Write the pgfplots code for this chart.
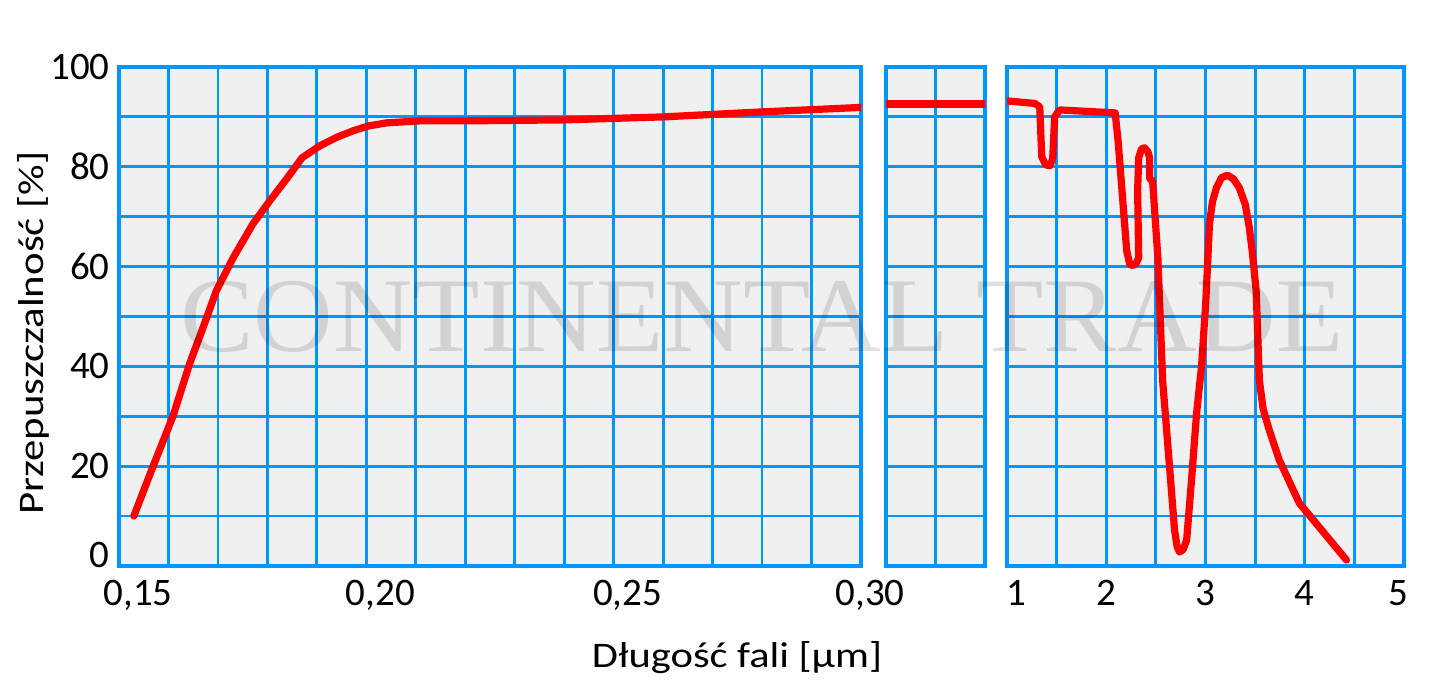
\documentclass[border=0pt]{standalone}
\usepackage{fontspec}
\setmainfont{Carlito}
\usepackage{pgfplots}
\pgfplotsset{compat=1.18}

\definecolor{gridblue}{RGB}{0,150,255}
\definecolor{panelbg}{RGB}{240,240,240}
\definecolor{curvered}{RGB}{255,0,0}

\pgfplotsset{
  panel/.style={
    scale only axis,
    height=249.5pt,
    anchor=south west,
    ymin=0, ymax=100,
    ytick={0,10,...,100},
    yticklabels={},
    xmajorgrids, ymajorgrids,
    major grid style={gridblue, line width=1.4pt},
    axis line style={gridblue, line width=2pt},
    axis background/.style={fill=panelbg},
    tick style={draw=none},
    ticklabel style={font=\fontsize{19.5pt}{22pt}\selectfont, inner sep=0pt},
    xticklabel style={yshift=-7pt},
    yticklabel style={xshift=-4.5pt},
  },
  curve/.style={curvered, line width=3.6pt, line join=round, line cap=round},
}

\begin{document}
\begin{tikzpicture}
\useasboundingbox (0,0) rectangle (720pt,347pt);

% 0,15 - 0,30
\begin{axis}[panel,
  at={(59.5pt,64pt)}, width=371pt,
  xmin=0.15, xmax=0.30,
  xtick={0.15,0.16,0.17,0.18,0.19,0.20,0.21,0.22,0.23,0.24,0.25,0.26,0.27,0.28,0.29,0.30},
  xticklabels={{\kern5pt0,15},,,,,{0,20},,,,,{0,25},,,,,{0,30\kern5pt}},
  xticklabel style={xshift=7pt},
  yticklabels={\raisebox{11pt}{0},,20,,40,,60,,80,,100},
]
\addplot[curve] coordinates {
  (0.1530,10.0) (0.1569,20.0) (0.1609,30.0) (0.1643,40.6) (0.1670,47.8)
  (0.1697,55.2) (0.1731,61.8) (0.1771,68.6) (0.1805,73.2) (0.1839,77.6)
  (0.1870,81.8) (0.1906,84.2) (0.1940,85.9) (0.1973,87.2) (0.2005,88.2)
  (0.2041,88.8) (0.2108,89.2) (0.2200,89.2) (0.2400,89.4) (0.2600,90.0)
  (0.2800,91.0) (0.3000,91.9)
};
\end{axis}

% przerwa
\begin{axis}[panel,
  at={(443pt,64pt)}, width=49.5pt,
  xmin=0.30, xmax=1.0,
  xtick={0.30,0.65,1.0}, xticklabels={},
]
\addplot[curve] coordinates {(0.30,92.6) (1.0,92.6)};
\end{axis}

% 1 - 5
\begin{axis}[panel,
  at={(503.5pt,64pt)}, width=198.5pt,
  xmin=1, xmax=5,
  xtick={1,1.5,2,2.5,3,3.5,4,4.5,5},
  xticklabels={{\kern9pt1},,2,,3,,4,,{5\kern6pt}},
]
\addplot[curve] coordinates {
  (1.00,93.2) (1.28,92.7) (1.33,92.0) (1.35,82.0) (1.39,80.4) (1.43,80.2)
  (1.46,81.5) (1.48,90.0) (1.53,91.4) (2.09,90.8) (2.12,85.0) (2.206,63.2)
  (2.236,60.5) (2.266,60.2) (2.300,60.6) (2.327,61.8) (2.316,75.2)
  (2.327,81.8) (2.355,83.6) (2.387,83.8) (2.420,83.0) (2.437,81.8)
  (2.437,77.6) (2.467,77.2) (2.520,61.8) (2.568,37.2) (2.638,19.8)
  (2.688,7.2) (2.715,3.8) (2.739,2.8) (2.775,3.3) (2.810,5.2) (2.859,17.2)
  (2.910,30.6) (2.960,40.0) (3.000,52.0) (3.020,60.0) (3.040,68.6)
  (3.070,73.0) (3.110,75.8) (3.160,77.8) (3.220,78.3) (3.280,77.6)
  (3.340,75.8) (3.400,72.5) (3.440,68.0) (3.470,63.2) (3.510,55.2)
  (3.543,37.2) (3.580,31.5) (3.643,27.2) (3.744,21.2) (3.945,12.6)
  (4.420,1.2)
};
\end{axis}

% znak wodny
\node[text=black, opacity=0.12, inner sep=0pt, xscale=1.04]
  at (381pt,188.5pt) {\fontspec{Liberation Serif}\fontsize{53pt}{60pt}\selectfont CONTINENTAL TRADE};

\node[rotate=90, anchor=base, inner sep=0pt] at (21.5pt,180.5pt)
  {\fontsize{18pt}{21pt}\selectfont\scalebox{1.19}[1]{Przepuszczalność [\%]}};
\node[anchor=base, inner sep=0pt] at (368.5pt,13pt)
  {\fontsize{18pt}{21pt}\selectfont\scalebox{1.18}[1]{Długość fali [µm]}};
\end{tikzpicture}
\end{document}
